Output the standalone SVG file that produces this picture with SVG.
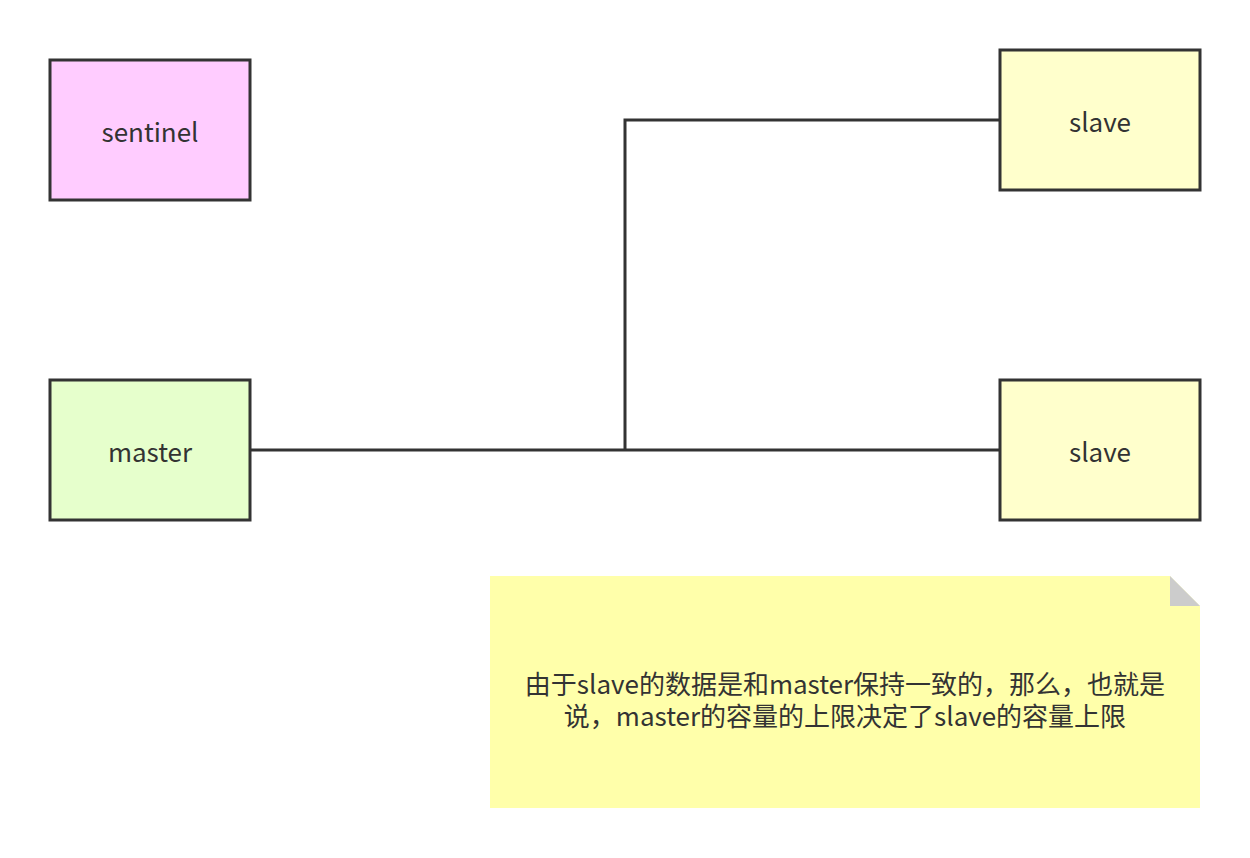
<svg xmlns="http://www.w3.org/2000/svg" width="1250" height="858" viewBox="0 0 1250 858">
<style>
.box{stroke:#333333;stroke-width:3}
.lbl{font-family:"Noto Sans CJK SC","Noto Sans",sans-serif;font-size:26px;fill:#333333;text-anchor:middle;dominant-baseline:central}
.conn{fill:none;stroke:#333333;stroke-width:3}
</style>
<rect width="1250" height="858" fill="#ffffff"/>
<g id="connectors">
<path class="conn" d="M250 450 L1000 450"/>
<path class="conn" d="M625 450 L625 120 L1000 120"/>
</g>
<g id="sentinel">
<rect class="box" x="50" y="60" width="200" height="140" fill="#ffccff"/>
<text class="lbl" x="150" y="130">sentinel</text>
</g>
<g id="master">
<rect class="box" x="50" y="380" width="200" height="140" fill="#e6ffcc"/>
<text class="lbl" x="150" y="450">master</text>
</g>
<g id="slave1">
<rect class="box" x="1000" y="50" width="200" height="140" fill="#ffffcc"/>
<text class="lbl" x="1100" y="120">slave</text>
</g>
<g id="slave2">
<rect class="box" x="1000" y="380" width="200" height="140" fill="#ffffcc"/>
<text class="lbl" x="1100" y="450">slave</text>
</g>
<g id="note">
<path d="M490 576 L1170 576 L1200 606 L1200 808 L490 808 Z" fill="#ffffaa"/>
<path d="M1170 576 L1200 606 L1170 606 Z" fill="#cccccc"/>
<text class="lbl" x="845" y="682">由于slave的数据是和master保持一致的，那么，也就是</text>
<text class="lbl" x="845" y="714">说，master的容量的上限决定了slave的容量上限</text>
</g>
</svg>
